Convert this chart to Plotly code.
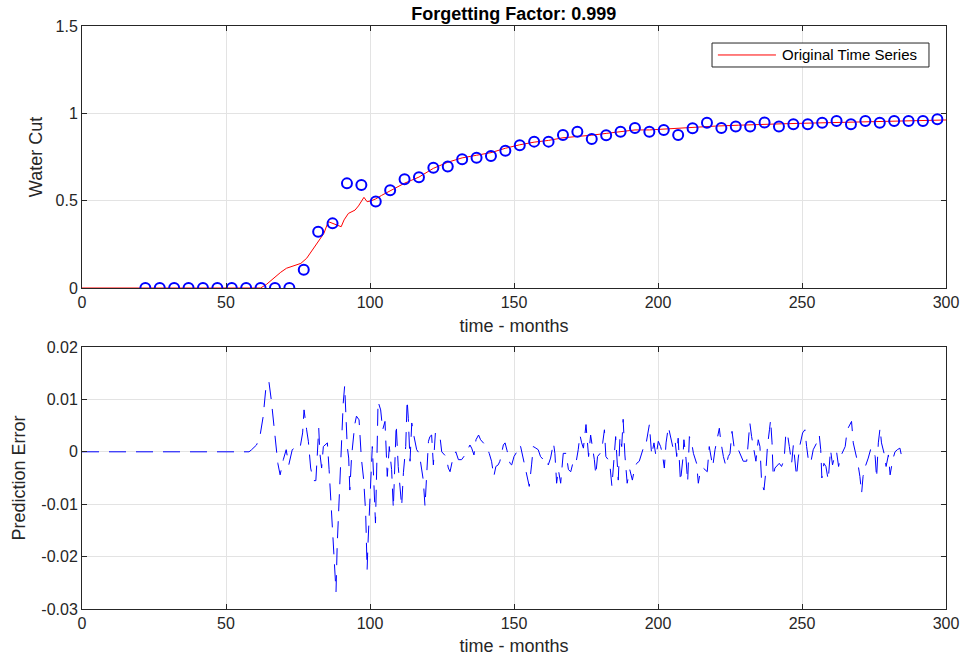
import plotly.graph_objects as go

# ---------------- data ----------------
# original time series (red line)
orig_month = [0, 60, 62, 64, 67, 69, 71, 74, 76, 78, 80, 82, 84, 85.5, 87, 88.5, 90, 91, 92.5,
              94.8, 96, 97.9, 99, 100.5, 102, 104, 107, 110, 112, 117, 122, 127, 132, 137, 142,
              147, 152, 157, 162, 167, 172, 177, 182, 187, 192, 197, 200, 205, 212, 220, 228,
              235, 243, 250, 258, 265, 272, 281, 290, 297, 300]
orig_value = [0, 0, 0.0, 0.02, 0.065, 0.09, 0.113, 0.13, 0.141, 0.17, 0.217, 0.26, 0.313, 0.38,
              0.37, 0.36, 0.351, 0.39, 0.427, 0.446, 0.47, 0.519, 0.494, 0.5, 0.51, 0.53, 0.555,
              0.58, 0.6, 0.635, 0.685, 0.72, 0.745, 0.76, 0.775, 0.8, 0.82, 0.835, 0.845, 0.86,
              0.866, 0.875, 0.885, 0.895, 0.905, 0.905, 0.908, 0.913, 0.92, 0.927, 0.932, 0.937,
              0.94, 0.943, 0.946, 0.948, 0.95, 0.952, 0.956, 0.96, 0.962]

# predicted points (blue circles)
pred_month = [22, 27, 32, 37, 42, 47, 52, 57, 62, 67, 72, 77, 82, 87, 92, 97, 102, 107, 112, 117,
              122, 127, 132, 137, 142, 147, 152, 157, 162, 167, 172, 177, 182, 187, 192, 197,
              202, 207, 212, 217, 222, 227, 232, 237, 242, 247, 252, 257, 262, 267, 272, 277,
              282, 287, 292, 297]
pred_value = [0, 0, 0, 0, 0, 0, 0, 0, 0, 0, 0, 0.105, 0.322, 0.37, 0.599, 0.59, 0.495, 0.56,
              0.622, 0.634, 0.689, 0.695, 0.737, 0.746, 0.756, 0.786, 0.817, 0.838, 0.838, 0.876,
              0.895, 0.853, 0.874, 0.895, 0.916, 0.895, 0.905, 0.876, 0.914, 0.946, 0.916, 0.924,
              0.924, 0.948, 0.924, 0.937, 0.937, 0.946, 0.956, 0.937, 0.956, 0.946, 0.956, 0.956,
              0.956, 0.966]

# prediction error (blue dashed line)
err_month = [0, 58, 58.9, 60.6, 61.8, 62.9, 63.9, 64.9, 65.7, 66.8, 68.0, 68.8, 69.9, 70.9, 71.8,
             73.0, 73.8, 74.8, 75.7, 76.6, 77.1, 78.0, 78.6, 79.4, 80.3, 81.2, 81.7, 82.2, 82.6,
             83.2, 83.8, 84.3, 85.2, 85.8, 86.6, 87.2, 87.8, 88.2, 88.6, 89.2, 89.6, 90.2, 90.7,
             91.2, 91.6, 92.1, 92.6, 93.0, 93.6, 94.2, 94.7, 95.3, 96.2, 97.0, 97.8, 98.5, 99.0,
             99.3, 99.9, 100.8, 101.3, 101.9, 102.4, 102.8, 103.7, 104.4, 105.2, 106.0, 106.7,
             107.5, 108.1, 108.7, 109.1, 109.8, 110.4, 111.0, 111.6, 112.4, 112.9, 113.3, 113.9,
             114.5, 115.3, 116.2, 117.1, 117.9, 118.5, 119.1, 119.7, 120.3, 120.8, 121.4, 122.0,
             122.7, 123.4, 124.3, 124.9, 126.4, 127.2, 127.8, 128.9, 129.8, 130.7, 131.8, 133.0,
             134.7, 135.3, 136.1, 136.8, 137.7, 138.4, 140.5, 141.4, 142.2, 143.0, 143.7, 144.5,
             145.1, 146.3, 146.9, 147.6, 148.6, 149.2, 150.0, 151.0, 151.5, 152.3, 153.2, 154.4,
             155.3, 156.1, 156.7, 157.6, 158.4, 159.2, 160.2, 161.3, 161.9, 162.7, 163.7, 164.2,
             164.8, 165.4, 166.2, 167.1, 168.1, 168.9, 169.7, 170.6, 171.5, 172.3, 172.9, 173.5,
             174.1, 175.0, 175.4, 175.9, 176.6, 177.3, 177.9, 178.4, 179.0, 179.9, 180.8, 181.4,
             181.9, 182.7, 183.3, 184.0, 184.7, 185.3, 186.2, 186.8, 187.4, 187.9, 188.5, 189.3,
             190.2, 191.1, 191.9, 192.6, 193.5, 194.9, 195.6, 196.3, 197.0, 197.8, 198.6, 199.3,
             200.1, 200.9, 201.5, 202.2, 202.8, 203.6, 204.4, 205.1, 205.9, 206.5, 207.0, 207.8,
             208.6, 209.0, 209.7, 210.3, 210.9, 211.7, 212.3, 213.4, 214.0, 214.8, 215.7, 217.1,
             217.8, 218.3, 219.0, 219.8, 220.6, 221.3, 221.8, 222.7, 223.6, 224.4, 225.0, 225.7,
             226.4, 227.1, 227.9, 229.6, 230.8, 231.4, 231.9, 232.5, 233.3, 234.0, 234.8, 235.4,
             236.0, 236.8, 237.5, 238.0, 238.7, 239.1, 239.6, 240.0, 240.6, 241.2, 242.1, 242.9,
             243.8, 244.4, 244.9, 245.6, 246.4, 247.0, 247.6, 248.1, 248.7, 249.3, 250.2, 251.0,
             251.6, 252.2, 253.0, 253.9, 255.1, 256.0, 256.5, 256.9, 257.6, 258.3, 259.1, 259.9,
             260.6, 261.3, 262.0, 262.7, 263.4, 264.1, 265.0, 265.7, 266.6, 267.2, 267.8, 268.7,
             269.4, 270.1, 270.7, 271.2, 271.8, 273.0, 273.8, 274.7, 275.4, 275.9, 276.5, 277.1,
             277.6, 278.5, 279.2, 280.0, 280.6, 281.5, 282.3, 283.1, 284.0, 284.6]
err_value = [0, 0, 0.0004, 0.0013, 0.003, 0.0067, 0.0125, 0.0134, 0.01, 0.0036, -0.0022, -0.0044,
             -0.0015, 0.0004, -0.0025, 0.0004, 0.0007, 0.0004, 0.0007, 0.0036, 0.008, 0.0042,
             0.002, -0.0031, -0.0055, -0.0055, -0.0009, 0.0045, -0.0003, -0.0031, 0.001, 0.0013,
             0.0017, -0.0034, -0.0117, -0.018, -0.0225, -0.0267, -0.018, -0.0098, -0.0028,
             0.0029, 0.0093, 0.0126, 0.0074, 0.001, -0.0012, -0.0073, -0.0009, 0.002, 0.0052,
             0.0068, 0.0061, -0.0012, -0.0053, -0.0117, -0.0225, -0.0175, -0.0098, 0.001,
             -0.0053, -0.0136, -0.0015, 0.0096, 0.008, 0.0042, 0.0058, -0.0047, 0.001, -0.0034,
             -0.0108, 0.0004, 0.0052, -0.0028, -0.0073, -0.0104, -0.004, 0.001, 0.0099, 0.0064,
             -0.0018, 0.0055, 0.0029, 0.0004, -0.0003, -0.0028, -0.0054, -0.0104, -0.0034, 0.002,
             0.0029, 0.0032, -0.0025, 0.0036, 0.0029, 0.0029, 0, -0.0009, -0.0031, -0.0038,
             -0.0009, 0, -0.0015, -0.0015, -0.0006, 0.0013, 0.0007, -0.0006, 0.0023, 0.0032,
             0.0023, 0.001, -0.0003, -0.0018, -0.0047, -0.0028, -0.0025, -0.0018, 0.0013, 0.0017,
             0.0002, -0.0022, -0.0025, -0.0009, 0, 0.0013, 0.001, -0.0015, -0.0044, -0.0066,
             -0.0025, 0.001, 0.0007, 0.0004, -0.0009, -0.0015, -0.0012, -0.0025, -0.0012, 0.0017,
             -0.0003, -0.006, -0.0034, -0.006, -0.0003, -0.0003, -0.0034, -0.0038, -0.0018,
             -0.0022, 0.0004, 0.0032, 0.0017, 0.0007, 0.0052, 0.0017, -0.0009, 0.0032, 0.001,
             -0.0015, -0.0044, -0.0009, -0.0003, 0.0017, 0.0042, -0.0009, -0.0015, -0.0025,
             -0.0066, -0.0003, 0.0029, -0.0054, 0.0029, 0.001, 0.0062, -0.0006, -0.006, -0.0034,
             -0.0054, -0.0031, -0.0022, -0.0018, 0.0007, 0.0007, 0.0029, 0.0052, -0.0006, 0.0017,
             -0.0009, 0.002, 0.001, -0.0003, -0.0031, 0.0017, 0.0048, 0.0029, 0.001, 0.0023,
             -0.0009, 0.0026, -0.0057, -0.0015, 0.0023, -0.0012, -0.0057, 0.0029, 0.0017, -0.0003,
             -0.0022, -0.006, -0.0034, -0.0031, -0.0038, 0.001, -0.0009, -0.0028, 0.0004, 0.0023,
             0.0045, 0.002, -0.0009, -0.0028, -0.0009, -0.0003, 0.0039, 0.001, 0, 0.0004, -0.0018,
             -0.0018, 0.002, 0.0055, 0.0029, 0.0004, -0.0018, 0.0023, 0.001, -0.006, -0.0073,
             -0.0034, 0.001, 0.0042, 0.0061, 0.0017, -0.0047, -0.0031, -0.0028, -0.0022, -0.0028,
             -0.0015, 0.0036, 0.0036, 0.001, -0.0022, 0.0013, -0.0022, -0.0047, -0.0012, 0.0013,
             0.0036, 0.0042, 0.001, -0.0015, -0.0022, 0.0004, 0.0017, 0.0032, 0.0004, -0.005,
             -0.0022, -0.0028, -0.0054, 0.0004, -0.0025, -0.0009, 0, -0.0028, -0.0009, 0, 0.001,
             0.0042, 0.0052, 0.0058, 0.0017, -0.0003, -0.0022, -0.0047, -0.0079, -0.0047, -0.0031,
             -0.0012, 0.0004, 0.0007, -0.0009, -0.005, 0.0017, 0.0045, 0.0017, -0.0003, -0.0028,
             -0.0006, -0.0044, -0.0015, 0, 0.0004, 0.0007, -0.0009]

x_ticks = [0, 50, 100, 150, 200, 250, 300]
x_ticktext = ["0", "50", "100", "150", "200", "250", "300"]
y1_ticks = [0, 0.5, 1, 1.5]
y1_ticktext = ["0", "0.5", "1", "1.5"]
y2_ticks = [-0.03, -0.02, -0.01, 0, 0.01, 0.02]
y2_ticktext = ["-0.03", "-0.02", "-0.01", "0", "0.01", "0.02"]
legend_label = "Original Time Series"

# ---------------- figure ----------------
FONT = "Liberation Sans, Arial, Helvetica, sans-serif"
AX = "#262626"
GRID = "#E3E3E3"
RED = "#FF0000"
BLUE = "#0000FF"

fig = go.Figure()
fig.add_trace(go.Scatter(x=orig_month, y=orig_value, mode="lines", name=legend_label,
                         showlegend=False, line=dict(color=RED, width=1),
                         xaxis="x", yaxis="y"))
fig.add_trace(go.Scatter(x=pred_month, y=pred_value, mode="markers", showlegend=False,
                         marker=dict(symbol="circle-open", size=10, color=BLUE,
                                     line=dict(width=2, color=BLUE)),
                         xaxis="x", yaxis="y"))
fig.add_trace(go.Scatter(x=err_month, y=err_value, mode="lines", showlegend=False,
                         line=dict(color=BLUE, width=1, dash="17px,10px"),
                         xaxis="x2", yaxis="y2"))

common_axis = dict(showline=True, linecolor=AX, linewidth=1, mirror="ticks", ticks="inside",
                   ticklen=5, tickcolor=AX, showgrid=True, gridcolor=GRID, gridwidth=1,
                   zeroline=False, automargin=False,
                   tickfont=dict(family=FONT, size=16, color=AX))
label_font = dict(family=FONT, size=18, color=AX)

fig.update_layout(
    width=962, height=661,
    margin=dict(l=82, r=16, t=26, b=52, autoexpand=False),
    paper_bgcolor="white", plot_bgcolor="white",
    font=dict(family=FONT, color=AX),
    title=dict(text="<b>Forgetting Factor: 0.999</b>", x=0.534, xanchor="center",
               y=0.98, yanchor="middle", font=dict(family=FONT, size=18, color="#000000")),
    xaxis=dict(domain=[0, 1], range=[0, 300], tickvals=x_ticks, ticktext=x_ticktext,
               anchor="y", title=dict(text="time - months", standoff=9, font=label_font),
               **common_axis),
    yaxis=dict(domain=[0.5506, 1], range=[0, 1.5], tickvals=y1_ticks, ticktext=y1_ticktext,
               anchor="x", title=dict(text="Water Cut", standoff=8, font=label_font),
               **common_axis),
    xaxis2=dict(domain=[0, 1], range=[0, 300], tickvals=x_ticks, ticktext=x_ticktext,
                anchor="y2", title=dict(text="time - months", standoff=8, font=label_font),
                **common_axis),
    yaxis2=dict(domain=[0, 0.4494], range=[-0.03, 0.02], tickvals=y2_ticks,
                ticktext=y2_ticktext, anchor="x2",
                title=dict(text="Prediction Error", standoff=11, font=label_font),
                **common_axis),
    showlegend=False,
    # legend box of the upper panel (drawn in paper coordinates)
    shapes=[
        dict(type="rect", xref="paper", yref="paper", x0=0.7292, x1=0.9803,
             y0=0.9297, y1=0.9708, line=dict(color=AX, width=1), fillcolor="white",
             layer="above"),
        dict(type="line", xref="paper", yref="paper", x0=0.736, x1=0.8032,
             y0=0.9503, y1=0.9503, line=dict(color=RED, width=1), layer="above"),
    ],
    annotations=[
        dict(text=legend_label, xref="paper", yref="paper", x=0.8079, y=0.9503,
             xanchor="left", yanchor="middle", showarrow=False,
             font=dict(family=FONT, size=15, color="#000000")),
    ],
)

fig.write_html("out.html", config={"displayModeBar": False},
               post_script="document.body.style.margin='0';")
